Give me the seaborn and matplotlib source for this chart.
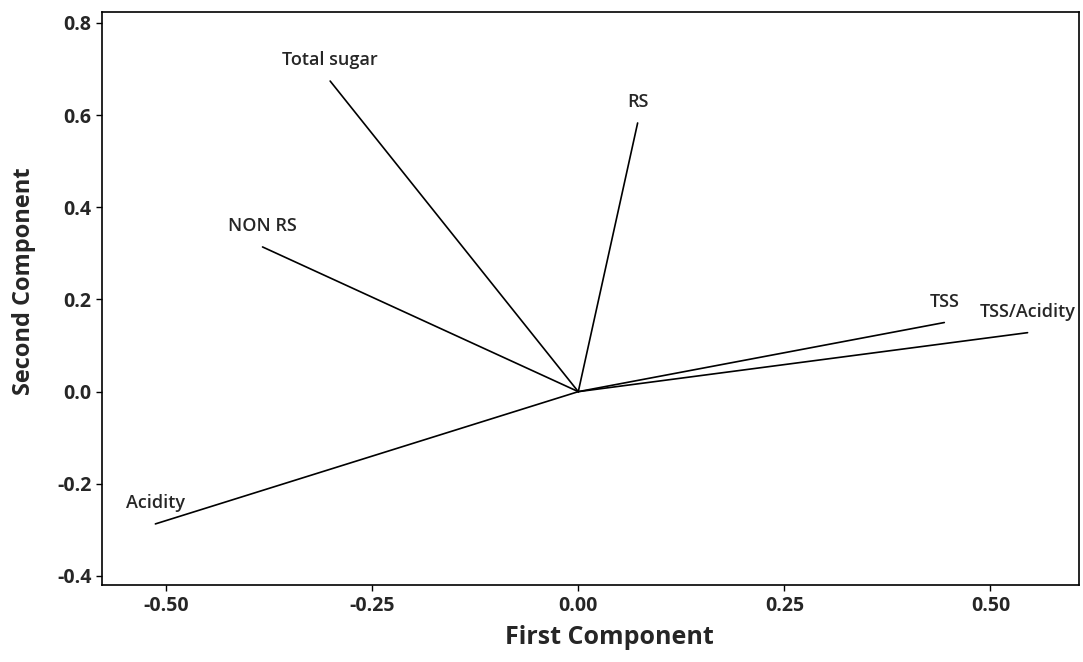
import numpy as np
import pandas as pd
import matplotlib
matplotlib.use("Agg")
import matplotlib.pyplot as plt
import seaborn as sns

# loadings
variables = ["Total sugar", "NON RS", "RS", "TSS", "TSS/Acidity", "Acidity"]
first_comp = [-0.301, -0.383, 0.072, 0.444, 0.545, -0.513]
second_comp = [0.674, 0.314, 0.583, 0.150, 0.128, -0.287]

x_ticks = [-0.50, -0.25, 0.00, 0.25, 0.50]
y_ticks = [-0.4, -0.2, 0.0, 0.2, 0.4, 0.6, 0.8]

# each loading vector runs from the origin to its endpoint
rows = []
for name, x, y in zip(variables, first_comp, second_comp):
    rows.append({"variable": name, "x": 0.0, "y": 0.0, "order": 0})
    rows.append({"variable": name, "x": x, "y": y, "order": 1})
df = pd.DataFrame(rows)

sns.set_style("ticks")
plt.rcParams["font.family"] = ["Open Sans", "DejaVu Sans"]

fig = plt.figure(figsize=(10.83, 6.62), dpi=100)
ax = fig.add_axes([0.094, 0.116, 0.902, 0.866])

sns.lineplot(data=df, x="x", y="y", units="variable", estimator=None,
             sort=False, color="black", linewidth=1.2, ax=ax, legend=False)

for name, x, y in zip(variables, first_comp, second_comp):
    ax.annotate(name, (x, y), xytext=(0, 15), textcoords="offset points",
                ha="center", va="center", fontsize=13, fontweight="semibold")

ax.set_xlim(-0.578, 0.607)
ax.set_ylim(-0.42, 0.824)
ax.set_xticks(x_ticks)
ax.set_xticklabels([f"{t:.2f}" for t in x_ticks])
ax.set_yticks(y_ticks)
ax.set_yticklabels([f"{t:.1f}" for t in y_ticks])
ax.tick_params(axis="both", labelsize=14, length=4, width=1, color="black")
for lab in ax.get_xticklabels() + ax.get_yticklabels():
    lab.set_fontweight("bold")

for side in ["top", "right", "left", "bottom"]:
    ax.spines[side].set_visible(True)
    ax.spines[side].set_color("black")
    ax.spines[side].set_linewidth(1.2)

ax.set_xlabel("First Component", fontsize=18, fontweight="bold")
ax.set_ylabel("Second Component", fontsize=17, fontweight="bold")
ax.xaxis.set_label_coords(0.52, -0.07)
ax.yaxis.set_label_coords(-0.067, 0.53)

fig.savefig("out.png", dpi=100)
